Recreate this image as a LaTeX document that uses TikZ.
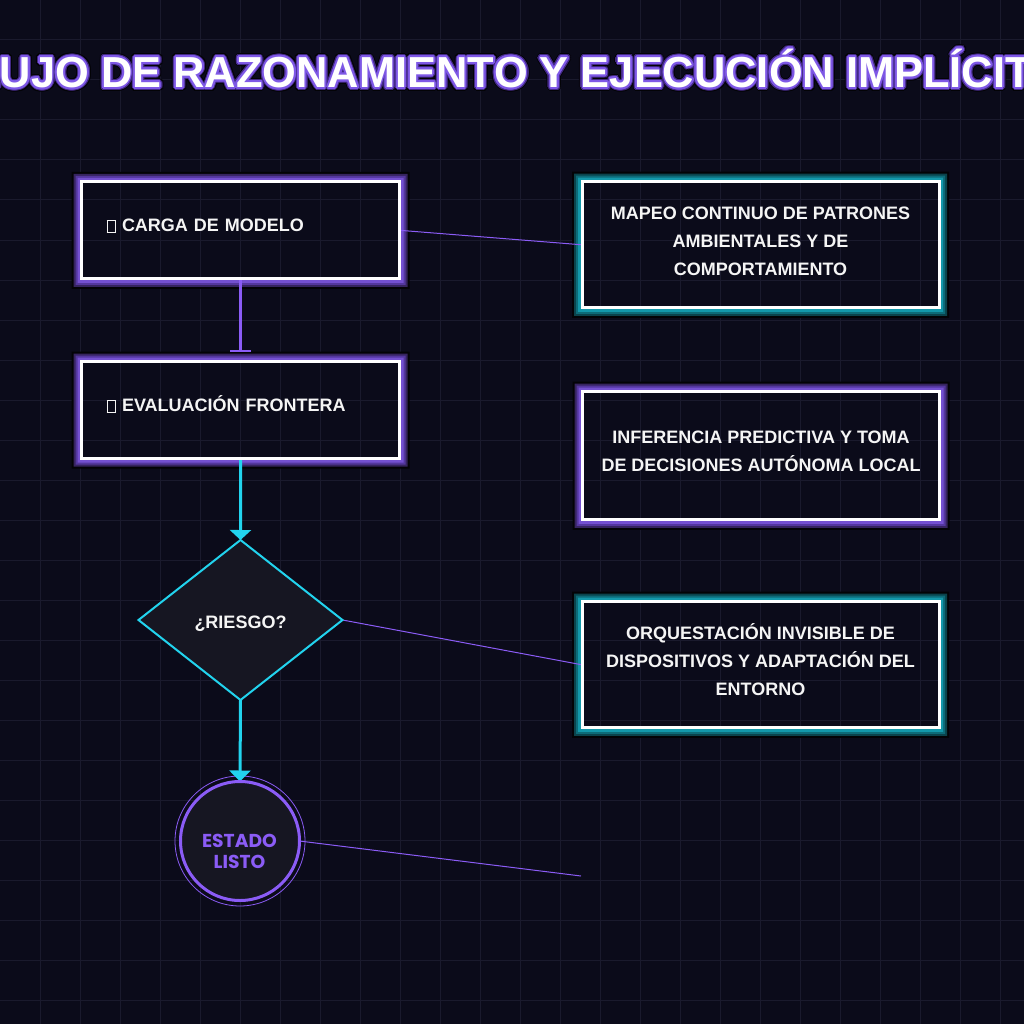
\documentclass[tikz,border=0pt]{standalone}
\usepackage{fontspec}
\setmainfont{Liberation Sans}
\newfontfamily\popfont{Poppins}
\newfontfamily\titlefont{Liberation Sans}[Kerning=Off]
\usetikzlibrary{shapes.geometric,arrows.meta,calc}
\definecolor{bgc}{HTML}{0B0B1A}
\definecolor{gridc}{HTML}{1A1A2D}
\definecolor{purp}{HTML}{8B5CF6}
\definecolor{cyanc}{HTML}{22D3EE}
\definecolor{shapefill}{HTML}{161622}
\definecolor{txt}{HTML}{F5F5F5}
\definecolor{pgA}{HTML}{7450D0}
\definecolor{pgB}{HTML}{54379E}
\definecolor{pgC}{HTML}{36245F}
\definecolor{tgA}{HTML}{1398AA}
\definecolor{tgB}{HTML}{0D6B78}
\definecolor{tgC}{HTML}{0A434C}
\definecolor{glowblack}{HTML}{030306}
\definecolor{titlepurp}{HTML}{7E58E6}
\definecolor{titledark}{HTML}{432A85}
\pgfdeclarelayer{bglayer}
\pgfdeclarelayer{glowlayer}
\pgfdeclarelayer{connlayer}
\pgfsetlayers{bglayer,glowlayer,connlayer,main}

\newcommand\tofu{{\setlength\fboxrule{0.9pt}\setlength\fboxsep{0pt}\fbox{\rule{0pt}{11.3pt}\hspace{7.5pt}}}}
\newcommand\glowtitle[1]{%
  \foreach \a in {0,22.5,...,337.5}{%
    \pgfmathsetlengthmacro\gx{4.0*cos(\a)}\pgfmathsetlengthmacro\gy{4.0*sin(\a)}%
    \rlap{\kern\gx\raisebox{\gy}{\color{glowblack}#1}}}%
  \foreach \a in {0,22.5,...,337.5}{%
    \pgfmathsetlengthmacro\gx{3.0*cos(\a)}\pgfmathsetlengthmacro\gy{3.0*sin(\a)}%
    \rlap{\kern\gx\raisebox{\gy}{\color{titledark}#1}}}%
  \foreach \a in {0,30,...,330}{%
    \pgfmathsetlengthmacro\gx{1.8*cos(\a)}\pgfmathsetlengthmacro\gy{1.8*sin(\a)}%
    \rlap{\kern\gx\raisebox{\gy}{\color{titlepurp}#1}}}%
  {\color{white}#1}}
\newcommand\glowring[4]{%
  \foreach \d/\c in {10/glowblack,8/#4,6/#3,4/#2}{%
    \fill[\c,even odd rule] ($(#1.north west)+(-\d pt,\d pt)$) rectangle ($(#1.south east)+(\d pt,-\d pt)$)
      (#1.north west) rectangle (#1.south east);}}

\begin{document}
\begin{tikzpicture}[x=1pt,y=-1pt,
  gridline/.style={draw=gridc,line width=1pt},
  leftbox/.style={rectangle,draw=white,line width=3pt,inner sep=0pt,inner xsep=25pt,outer sep=0pt,
    minimum height=97pt,text width=268pt,align=left,text height=13pt,text depth=9.6pt,
    font=\fontsize{18}{28}\selectfont\bfseries,text=txt},
  rightbox/.style={rectangle,draw=white,line width=3pt,inner sep=0pt,outer sep=0pt,minimum width=357pt},
  boxtext/.style={inner sep=0pt,align=center,text depth=0pt,
    font=\fontsize{18}{28}\selectfont\bfseries,text=txt},
  purpthick/.style={draw=purp,line width=3pt},
  cyanline/.style={draw=cyanc,line width=3pt},
  thinpurp/.style={draw=purp,line width=1pt}]
\useasboundingbox (0,0) rectangle (1024,1024);
\clip (0,0) rectangle (1024,1024);
\begin{pgfonlayer}{bglayer}
  \fill[bgc] (0,0) rectangle (1024,1024);
  \foreach \i in {40,80,...,1000}{\draw[gridline] (\i,0) -- (\i,1024); \draw[gridline] (0,\i) -- (1024,\i);}
\end{pgfonlayer}

% title
\node[anchor=base,inner sep=0pt,font=\titlefont\fontsize{43.4}{50}\selectfont\bfseries] (title) at (505,87.5)
  {\glowtitle{FLUJO DE RAZONAMIENTO Y EJECUCIÓN IMPLÍCITA}};

% left column
\node[leftbox] (b1) at (240.7,230.3) {\tofu\ CARGA DE MODELO};
\node[leftbox] (b2) at (240.7,410) {\tofu\ EVALUACIÓN FRONTERA};
\node[diamond,draw=cyanc,line width=2pt,fill=shapefill,minimum width=204pt,minimum height=160pt,
  inner sep=0pt,outer sep=0pt,text height=16pt,text depth=0pt,
  font=\fontsize{18}{22}\selectfont\bfseries,text=txt] (dia) at (240.5,620) {¿RIESGO?};
\node[circle,draw=purp,line width=3pt,fill=shapefill,minimum size=119pt,inner sep=0pt,outer sep=0pt]
  (circ) at (240,841) {};
\node[inner sep=0pt,align=center,text height=33.8pt,text depth=0pt,text=purp,
  font=\popfont\fontsize{18.7}{21}\selectfont\bfseries] (circt) at (239.5,851.5) {ESTADO\\LISTO};

% right column
\node[rightbox,minimum height=126.3pt] (r1) at (760.5,244.8) {};
\node[rightbox,minimum height=128.3pt] (r2) at (761,455.8) {};
\node[rightbox,minimum height=126.3pt] (r3) at (760.5,664.8) {};
\node[boxtext,text height=68.9pt] (r1t) at (760.5,241.2) {MAPEO CONTINUO DE PATRONES\\AMBIENTALES Y DE\\COMPORTAMIENTO};
\node[boxtext,text height=40.9pt] (r2t) at (761,451) {INFERENCIA PREDICTIVA Y TOMA\\DE DECISIONES AUTÓNOMA LOCAL};
\node[boxtext,text height=68.9pt] (r3t) at (760.5,661.3) {ORQUESTACIÓN INVISIBLE DE\\DISPOSITIVOS Y ADAPTACIÓN DEL\\ENTORNO};

\begin{pgfonlayer}{glowlayer}
  \glowring{b1}{pgA}{pgB}{pgC}
  \glowring{b2}{pgA}{pgB}{pgC}
  \glowring{r1}{tgA}{tgB}{tgC}
  \glowring{r2}{pgA}{pgB}{pgC}
  \glowring{r3}{tgA}{tgB}{tgC}
  \draw[purp,line width=0.8pt] (circ.center) circle[radius=65pt];
\end{pgfonlayer}

\begin{pgfonlayer}{connlayer}
  \draw[purpthick,-{Bar[width=21pt,line width=2pt]},shorten >=10pt] (b1.south) -- (b2.north);
  \draw[cyanline,-{Triangle[width=21pt,length=10pt]}] (b2.south) -- (dia.north);
  \draw[cyanline,-{Triangle[width=21pt,length=11pt]}] (dia.south) -- (circ.north);
  \draw[thinpurp] (b1.east) -- (r1.west);
  \draw[thinpurp] (dia.east) -- (r3.west);
  \coordinate (freeend) at (581,876);
  \draw[thinpurp] (circ.east) -- (freeend);
\end{pgfonlayer}
\end{tikzpicture}
\end{document}
